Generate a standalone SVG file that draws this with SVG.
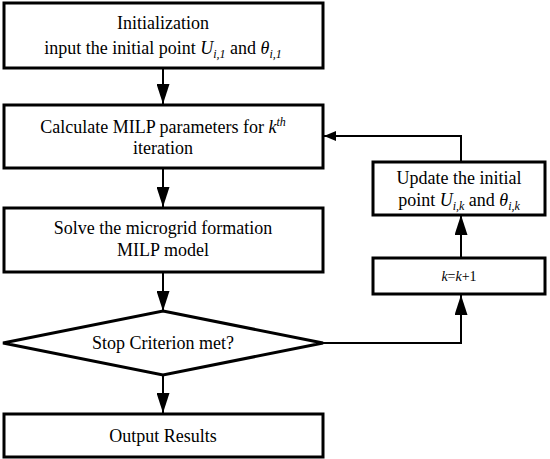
<svg xmlns="http://www.w3.org/2000/svg" width="550" height="459" viewBox="0 0 550 459">
<style>
.box{fill:#fff;stroke:#000;stroke-width:3}
.t{font-family:'Liberation Serif','Times New Roman',serif;font-size:18px;fill:#000;text-anchor:middle}
.i{font-style:italic}
.s{font-size:12px;font-style:italic}
.c{fill:none;stroke:#000;stroke-width:2}
</style>
<defs>
<marker id="ah" markerWidth="20" markerHeight="13" refX="20" refY="6.5" orient="auto" markerUnits="userSpaceOnUse">
<path d="M0,0 L20,6.5 L0,13 Z" fill="#000"/>
</marker>
<marker id="ahs" markerWidth="12" markerHeight="10" refX="12" refY="5" orient="auto" markerUnits="userSpaceOnUse">
<path d="M0,0 L12,5 L0,10 Z" fill="#000"/>
</marker>
</defs>
<rect width="550" height="459" fill="#fff"/>
<g id="connectors">
<line class="c" x1="163" y1="68" x2="163" y2="104" marker-end="url(#ah)"/>
<line class="c" x1="163" y1="168" x2="163" y2="207" marker-end="url(#ah)"/>
<line class="c" x1="163" y1="272" x2="163" y2="311" marker-end="url(#ah)"/>
<line class="c" x1="163" y1="375" x2="163" y2="413" marker-end="url(#ah)"/>
<polyline class="c" points="323,343 461,343 461,295" marker-end="url(#ah)"/>
<line class="c" x1="461" y1="257" x2="461" y2="215" marker-end="url(#ah)"/>
<polyline class="c" points="461,161 461,136 324,136" marker-end="url(#ahs)"/>
</g>
<g id="init">
<rect class="box" x="4" y="3" width="319" height="65"/>
<text class="t" x="163" y="29">Initialization</text>
<text class="t" x="163" y="54">input the initial point <tspan class="i">U</tspan><tspan class="s" dy="4">i,1</tspan><tspan dy="-4"> and </tspan><tspan class="i">θ</tspan><tspan class="s" dy="4">i,1</tspan></text>
</g>
<g id="calc">
<rect class="box" x="4" y="105" width="319" height="63"/>
<text class="t" x="163" y="133">Calculate MILP parameters for <tspan class="i">k</tspan><tspan class="s" dy="-7">th</tspan></text>
<text class="t" x="163" y="154">iteration</text>
</g>
<g id="solve">
<rect class="box" x="4" y="208" width="319" height="64"/>
<text class="t" x="163" y="234">Solve the microgrid formation</text>
<text class="t" x="163" y="256">MILP model</text>
</g>
<g id="stop">
<polygon class="box" points="163,311 323,343 163,375 3,343"/>
<text class="t" x="163" y="349">Stop Criterion met?</text>
</g>
<g id="output">
<rect class="box" x="4" y="414" width="319" height="43"/>
<text class="t" x="163" y="442">Output Results</text>
</g>
<g id="kinc">
<rect class="box" x="373" y="258" width="172" height="36"/>
<text class="t" x="459" y="281" style="font-size:14px"><tspan class="i">k</tspan>=<tspan class="i">k</tspan>+1</text>
</g>
<g id="update">
<rect class="box" x="373" y="162" width="172" height="53"/>
<text class="t" x="459" y="184">Update the initial</text>
<text class="t" x="459" y="206">point <tspan class="i">U</tspan><tspan class="s" dy="4">i,k</tspan><tspan dy="-4"> and </tspan><tspan class="i">θ</tspan><tspan class="s" dy="4">i,k</tspan></text>
</g>
</svg>
